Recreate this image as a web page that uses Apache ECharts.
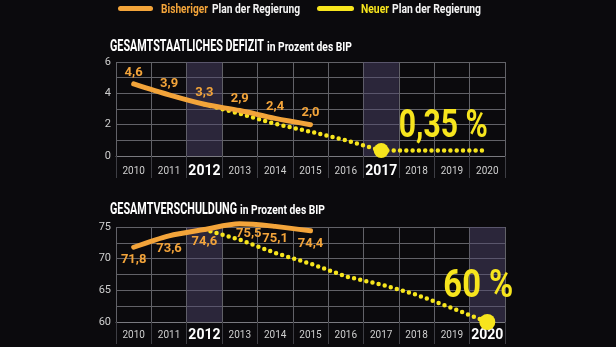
<!DOCTYPE html>
<html><head><meta charset="utf-8">
<script src="https://cdn.jsdelivr.net/npm/echarts@6/dist/echarts.min.js"></script>
<style>html,body{margin:0;padding:0;background:#0b0a0d;}#c{width:616px;height:347px;}</style>
</head><body><div id="c"></div>
<script>
// ---- data ----
const years = ['2010','2011','2012','2013','2014','2015','2016','2017','2018','2019','2020'];
const deficitOld = [4.6, 3.9, 3.3, 2.9, 2.4, 2.0, '-', '-', '-', '-', '-'];
const deficitNew = ['-', '-', 3.3, 2.7, 2.05, 1.55, 1.0, 0.35, 0.35, 0.35, 0.35];
const deficitTarget = ['2017', 0.35];
const deficitTargetText = '0,35 %';
const deficitHighlight = ['2012', '2017'];
const debtOld = [71.8, 73.6, 74.6, 75.5, 75.1, 74.4, '-', '-', '-', '-', '-'];
const debtNew = ['-', '-', 74.6, 73.0, 70.9, 69.2, 67.2, 65.9, 64.3, 62.2, 60.0];
const debtTarget = ['2020', 60];
const debtTargetText = '60 %';
const debtHighlight = ['2012', '2020'];
const deficitTicks = [0, 2, 4, 6];
const debtTicks = [60, 65, 70, 75];
const legendOld = ['Bisheriger', 'Plan der Regierung'];
const legendNew = ['Neuer', 'Plan der Regierung'];
const title1 = ['GESAMTSTAATLICHES DEFIZIT', 'in Prozent des BIP'];
const title2 = ['GESAMTVERSCHULDUNG', 'in Prozent des BIP'];

// ---- style ----
const FONT = "Roboto, 'DejaVu Sans Condensed', sans-serif";
const ORANGE = '#f3a43a';
const YELLOW = '#f7e51d';
const WHITE = '#f4f4f4';
const GRID = '#626268';
const HL = 'rgba(82,74,112,0.45)';
const fmt1 = v => Number(v).toFixed(1).replace('.', ',');

const mctx = document.createElement('canvas').getContext('2d');
function measure(text, size, weight) {
  mctx.font = weight + ' ' + size + 'px ' + FONT;
  return mctx.measureText(text).width;
}
// condensed text drawn by scaling to a target width
function fitText(text, x, y, width, size, color, align) {
  const natural = measure(text, size, 'bold');
  return {type: 'text', x: x, y: y, scaleX: width / natural, z: 100,
          style: {text: text, fill: color, fontSize: size, fontWeight: 'bold', fontFamily: FONT,
                  align: align || 'left', verticalAlign: 'middle'}};
}

const chart = echarts.init(document.getElementById('c'), null, {renderer: 'canvas'});

function xAxisCfg(gi, hl, margin) {
  return {
    type: 'category', gridIndex: gi, data: years, boundaryGap: true,
    axisLine: {show: true, lineStyle: {color: '#7a7a80', width: 1}},
    axisTick: {show: true, length: 22, lineStyle: {color: '#3e3e44', width: 1}},
    splitLine: {show: true, lineStyle: {color: GRID, width: 1}},
    axisLabel: {
      interval: 0, margin: margin, color: '#cfcfcf', fontSize: 10, fontFamily: FONT, lineHeight: 16,
      verticalAlign: 'top',
      formatter: v => hl.includes(v) ? '{b|' + v + '}' : v,
      rich: {b: {fontSize: 14, fontWeight: 'bold', color: '#ffffff', fontFamily: FONT, lineHeight: 16}}
    }
  };
}
function yAxisCfg(gi, min, max, interval, ticks) {
  return {
    type: 'value', gridIndex: gi, min: min, max: max, interval: interval,
    axisLine: {show: false}, axisTick: {show: false},
    splitLine: {show: true, lineStyle: {color: GRID, width: 1}},
    axisLabel: {
      margin: 5, color: '#cfcfcf', fontSize: 11, fontFamily: FONT,
      formatter: v => ticks.includes(v) ? String(v) : ''
    }
  };
}
function hlData(hl, top) { return years.map(y => hl.includes(y) ? top : '-'); }

const option = {
  backgroundColor: '#0b0a0d',
  animation: false,
  grid: [
    {left: 116, width: 389, top: 62, height: 94},
    {left: 116, width: 389, top: 227, height: 95}
  ],
  xAxis: [xAxisCfg(0, deficitHighlight, 7), xAxisCfg(1, debtHighlight, 5)],
  yAxis: [yAxisCfg(0, 0, 6, 1, deficitTicks), yAxisCfg(1, 60, 75, 2.5, debtTicks)],
  series: [
    {type: 'bar', xAxisIndex: 0, yAxisIndex: 0, data: hlData(deficitHighlight, 6), barWidth: '100%',
     itemStyle: {color: HL}, silent: true, clip: true, z: 1},
    {type: 'bar', xAxisIndex: 1, yAxisIndex: 1, data: hlData(debtHighlight, 75), barWidth: '100%',
     itemStyle: {color: HL}, silent: true, clip: true, z: 1},
    {type: 'line', xAxisIndex: 0, yAxisIndex: 0, data: deficitNew, symbol: 'none', z: 3,
     lineStyle: {color: YELLOW, width: 4.5, type: [0, 6.3], cap: 'round'}},
    {type: 'line', xAxisIndex: 1, yAxisIndex: 1, data: debtNew, symbol: 'none', z: 3,
     lineStyle: {color: YELLOW, width: 4.5, type: [0, 6.3], cap: 'round'}},
    {type: 'line', xAxisIndex: 0, yAxisIndex: 0, data: deficitOld, smooth: 0.3, z: 4, clip: false,
     symbol: 'circle', symbolSize: 0.1, itemStyle: {color: ORANGE},
     lineStyle: {color: ORANGE, width: 5, cap: 'round'},
     label: {show: true, position: 'top', distance: 5, color: ORANGE, fontSize: 13, fontWeight: 'bold',
             fontFamily: FONT, formatter: p => fmt1(p.value)}},
    {type: 'line', xAxisIndex: 1, yAxisIndex: 1, smooth: 0.3, z: 4, clip: false,
     data: debtOld.map(v => (v === 75.5 ? {value: v, label: {offset: [9, -3]}} : v)),
     symbol: 'circle', symbolSize: 0.1, itemStyle: {color: ORANGE},
     lineStyle: {color: ORANGE, width: 5, cap: 'round'},
     label: {show: true, position: 'bottom', distance: 6, color: ORANGE, fontSize: 13, fontWeight: 'bold',
             fontFamily: FONT, formatter: p => fmt1(p.value)}},
    {type: 'scatter', xAxisIndex: 0, yAxisIndex: 0, data: [deficitTarget], symbolSize: 15, z: 5, clip: false,
     itemStyle: {color: YELLOW, opacity: 1}},
    {type: 'scatter', xAxisIndex: 1, yAxisIndex: 1, data: [debtTarget], symbolSize: 16, z: 5, clip: false,
     itemStyle: {color: YELLOW, opacity: 1}}
  ]
};
chart.setOption(option);

// texts (titles, legend, big annotations anchored on the target points)
const p1 = chart.convertToPixel({xAxisIndex: 0, yAxisIndex: 0}, deficitTarget);
const p2 = chart.convertToPixel({xAxisIndex: 1, yAxisIndex: 1}, debtTarget);
const graphics = [
  {type: 'rect', shape: {x: 118, y: 6, width: 35, height: 5, r: 2.5}, style: {fill: ORANGE}},
  fitText(legendOld[0], 161, 10, 47, 13, ORANGE),
  fitText(legendOld[1], 212, 10, 88, 13, WHITE),
  {type: 'rect', shape: {x: 317, y: 6, width: 37, height: 5, r: 2.5}, style: {fill: YELLOW}},
  fitText(legendNew[0], 361, 10, 28, 13, YELLOW),
  fitText(legendNew[1], 392, 10, 89, 13, WHITE),
  fitText(title1[0], 110, 47, 154, 16, '#ffffff'),
  fitText(title1[1], 267, 48, 85, 13, '#ffffff'),
  fitText(title2[0], 110, 210, 127, 16, '#ffffff'),
  fitText(title2[1], 240, 211, 85, 13, '#ffffff'),
  fitText(deficitTargetText, p1[0] + 62, p1[1] - 23, 89, 38, YELLOW, 'center'),
  fitText(debtTargetText, p2[0] - 9, p2[1] - 35, 70, 38, YELLOW, 'center')
];
chart.setOption({graphic: graphics});
</script></body></html>
